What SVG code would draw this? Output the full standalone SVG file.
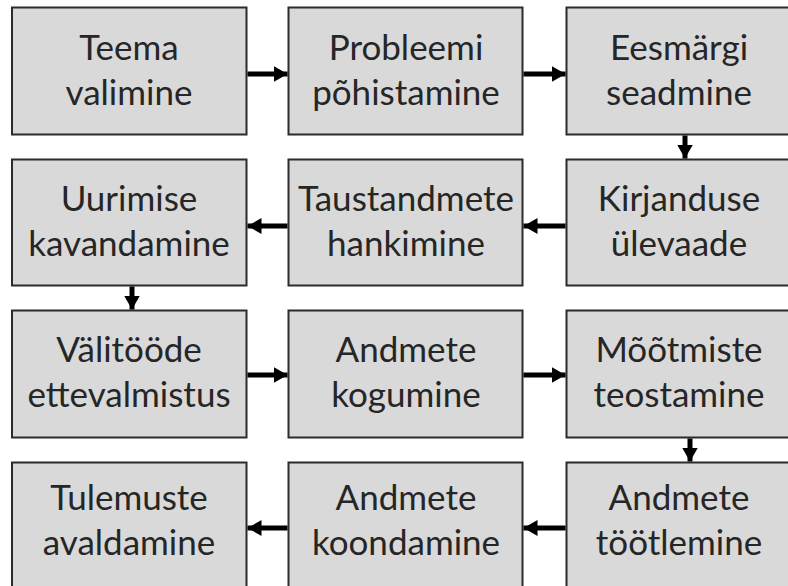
<svg xmlns="http://www.w3.org/2000/svg" width="788" height="586" viewBox="0 0 788 586">
  <style>
    .box { fill: #d9d9d9; stroke: #2b2b2b; stroke-width: 2; }
    .lbl { font-family: Lato, "Open Sans", "Liberation Sans", sans-serif; font-size: 35px; fill: #262626; text-anchor: middle; }
    .arr { stroke: #000; stroke-width: 5; fill: none; marker-end: url(#ah); }
  </style>
  <defs>
    <marker id="ah" viewBox="0 0 14 16" refX="14" refY="8" markerWidth="14" markerHeight="16" markerUnits="userSpaceOnUse" orient="auto">
      <path d="M0,0 L14,8 L0,16 Z" fill="#000"/>
    </marker>
  </defs>
  <rect width="788" height="586" fill="#fff"/>

  <g id="n1"><rect class="box" x="12" y="7.5" width="234.5" height="127"/>
    <text class="lbl" x="129" y="60">Teema</text><text class="lbl" x="129" y="105">valimine</text></g>
  <g id="n2"><rect class="box" x="288.5" y="7.5" width="234" height="127"/>
    <text class="lbl" x="406" y="60">Probleemi</text><text class="lbl" x="406" y="105">põhistamine</text></g>
  <g id="n3"><rect class="box" x="566.5" y="7.5" width="234" height="127"/>
    <text class="lbl" x="679" y="60">Eesmärgi</text><text class="lbl" x="679" y="105">seadmine</text></g>

  <g id="n4"><rect class="box" x="12" y="159.5" width="234.5" height="126"/>
    <text class="lbl" x="129" y="211">Uurimise</text><text class="lbl" x="129" y="256">kavandamine</text></g>
  <g id="n5"><rect class="box" x="288.5" y="159.5" width="234" height="126"/>
    <text class="lbl" x="406" y="211">Taustandmete</text><text class="lbl" x="406" y="256">hankimine</text></g>
  <g id="n6"><rect class="box" x="566.5" y="159.5" width="234" height="126"/>
    <text class="lbl" x="679" y="211">Kirjanduse</text><text class="lbl" x="679" y="256">ülevaade</text></g>

  <g id="n7"><rect class="box" x="12" y="310.5" width="234.5" height="127"/>
    <text class="lbl" x="129" y="362">Välitööde</text><text class="lbl" x="129" y="407">ettevalmistus</text></g>
  <g id="n8"><rect class="box" x="288.5" y="310.5" width="234" height="127"/>
    <text class="lbl" x="406" y="362">Andmete</text><text class="lbl" x="406" y="407">kogumine</text></g>
  <g id="n9"><rect class="box" x="566.5" y="310.5" width="234" height="127"/>
    <text class="lbl" x="679" y="362">Mõõtmiste</text><text class="lbl" x="679" y="407">teostamine</text></g>

  <g id="n10"><rect class="box" x="12" y="462.5" width="234.5" height="140"/>
    <text class="lbl" x="129" y="510">Tulemuste</text><text class="lbl" x="129" y="555">avaldamine</text></g>
  <g id="n11"><rect class="box" x="288.5" y="462.5" width="234" height="140"/>
    <text class="lbl" x="406" y="510">Andmete</text><text class="lbl" x="406" y="555">koondamine</text></g>
  <g id="n12"><rect class="box" x="566.5" y="462.5" width="234" height="140"/>
    <text class="lbl" x="679" y="510">Andmete</text><text class="lbl" x="679" y="555">töötlemine</text></g>

  <g id="connectors">
    <path class="arr" d="M247.5,74 H287.5"/>
    <path class="arr" d="M523.5,74 H565.5"/>
    <path class="arr" d="M685,135.5 V158.5"/>
    <path class="arr" d="M565.5,226 H523.5"/>
    <path class="arr" d="M287.5,226 H247.5"/>
    <path class="arr" d="M132,286.5 V309.5"/>
    <path class="arr" d="M247.5,375 H287.5"/>
    <path class="arr" d="M523.5,375 H565.5"/>
    <path class="arr" d="M690,438.5 V461.5"/>
    <path class="arr" d="M565.5,528 H523.5"/>
    <path class="arr" d="M287.5,528 H247.5"/>
  </g>
</svg>
